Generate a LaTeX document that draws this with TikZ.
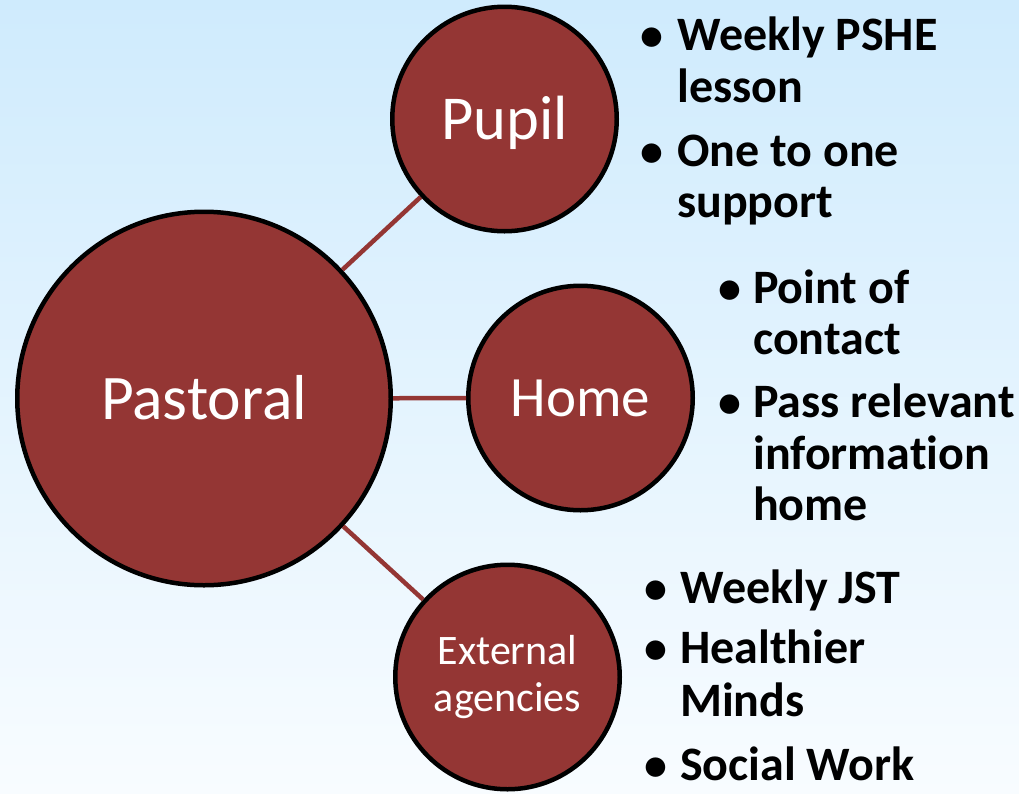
\documentclass[tikz,border=0pt]{standalone}
\usepackage{fontspec}
\setmainfont{Carlito}[Ligatures=NoCommon]
\definecolor{bubred}{HTML}{943634}
\definecolor{bgtop}{HTML}{CFEBFD}
\definecolor{bgbot}{HTML}{F8FCFF}
\tikzset{
  bub/.style={circle, fill=bubred, draw=black, line width=4.5pt, inner sep=0pt, text=white, text depth=0pt},
  conn/.style={draw=bubred, line width=4.5pt},
  itm/.style={anchor=base west, inner sep=0pt, text=black, font=\fontsize{48}{54}\selectfont\bfseries},
  bul/.style={anchor=base, inner sep=0pt, text=black, font=\fontsize{46}{52}\selectfont\bfseries},
}
\begin{document}
\begin{tikzpicture}[x=1pt,y=-1pt]
\useasboundingbox (0,0) rectangle (1019,793);
\shade[top color=bgtop, bottom color=bgbot] (0,0) rectangle (1019,793);

% circles
\node (pastoral) [bub, minimum size=373.5pt, text height=41pt, font=\fontsize{63.5}{72}\selectfont] at (204,398.5) {Pastoral};
\node (pupil) [bub, minimum size=224.5pt, text height=40pt, font=\fontsize{62.5}{72}\selectfont] at (504.5,119) {Pupil};
\node (home) [bub, minimum size=224.5pt, text height=37pt, font=\fontsize{57}{66}\selectfont] at (580.5,398) {Home};
\node (ext) [circle, fill=bubred, draw=black, line width=4.5pt, inner sep=0pt, text=white, minimum size=224.5pt, align=center, font=\fontsize{42}{47}\selectfont] at (507.5,677) {External\\agencies};

% connectors
\draw[conn] (pastoral) -- (pupil);
\draw[conn] (pastoral) -- (home);
\draw[conn] (pastoral) -- (ext);

% Pupil bullets
\node (pb1) [bul] at (652,50) {•};
\node (pt1) [itm] at (677,50) {Weekly PSHE};
\node (pt1b) [itm] at (677,102) {lesson};
\node (pb2) [bul] at (652,166) {•};
\node (pt2) [itm] at (677,166) {One to one};
\node (pt2b) [itm] at (677,217) {support};

% Home bullets
\node (hb1) [bul] at (730,303) {•};
\node (ht1) [itm] at (753,303) {Point of};
\node (ht1b) [itm] at (753,354) {contact};
\node (hb2) [bul] at (730,417) {•};
\node (ht2) [itm] at (753,417) {Pass relevant};
\node (ht2b) [itm] at (753,469) {information};
\node (ht2c) [itm] at (753,520) {home};

% External bullets
\node (eb1) [bul] at (656,603) {•};
\node (et1) [itm] at (680,603) {Weekly JST};
\node (eb2) [bul] at (656,663) {•};
\node (et2) [itm] at (680,663) {Healthier};
\node (et2b) [itm] at (680,716) {Minds};
\node (eb3) [bul] at (656,780) {•};
\node (et3) [itm] at (680,780) {Social Work};
\end{tikzpicture}
\end{document}
